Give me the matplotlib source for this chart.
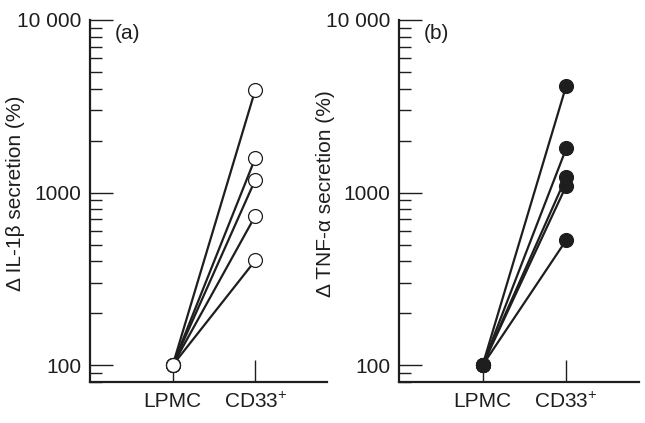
import matplotlib
matplotlib.use("Agg")
import matplotlib.pyplot as plt
from matplotlib.ticker import FixedLocator, LogLocator, NullFormatter

plt.rcParams["font.family"] = ["Liberation Sans", "DejaVu Sans"]
plt.rcParams["mathtext.fontset"] = "custom"
plt.rcParams["mathtext.rm"] = "Liberation Sans"
plt.rcParams["mathtext.it"] = "Liberation Sans"

# data (percent of LPMC secretion)
groups = ["LPMC", "CD33$^{+}$"]
il1b_lpmc = [100, 100, 100, 100, 100]
il1b_cd33 = [3950, 1590, 1190, 735, 405]
tnfa_lpmc = [100, 100, 100, 100, 100]
tnfa_cd33 = [4150, 1800, 1230, 1095, 530]

ytick_vals = [100, 1000, 10000]
ytick_labels = ["100", "1000", "10 000"]

INK = "#1e1e1e"
FS = 15

fig = plt.figure(figsize=(6.45, 4.23), dpi=100)
ax_a = fig.add_axes([0.1395, 0.097, 0.368, 0.856])
ax_b = fig.add_axes([0.6186, 0.097, 0.372, 0.856])


def draw_panel(ax, before, after, filled, ylabel, tag, label_x):
    for b, a in zip(before, after):
        ax.plot([1, 2], [b, a], color=INK, lw=1.6, zorder=2, solid_capstyle="round")
    face = INK if filled else "white"
    ax.plot([1] * len(before), before, "o", ms=10, mfc=face, mec=INK, mew=0.9, zorder=3, ls="none")
    ax.plot([2] * len(after), after, "o", ms=10, mfc=face, mec=INK, mew=0.9, zorder=3, ls="none")

    ax.set_yscale("log")
    ax.set_ylim(80, 10000)
    ax.set_xlim(0, 2.87)
    ax.yaxis.set_major_locator(FixedLocator(ytick_vals))
    ax.set_yticklabels(ytick_labels)
    ax.yaxis.set_minor_locator(LogLocator(base=10, subs=range(2, 10)))
    ax.yaxis.set_minor_formatter(NullFormatter())
    ax.set_xticks([1, 2])
    ax.set_xticklabels(groups)

    ax.tick_params(axis="y", which="major", direction="in", length=16.5, width=1.0,
                   labelsize=FS, pad=6, colors=INK)
    ax.tick_params(axis="y", which="minor", direction="in", length=8.5, width=1.0, colors=INK)
    ax.tick_params(axis="x", which="major", direction="in", length=16, width=1.0,
                   labelsize=FS, pad=7, colors=INK)

    for s in ("top", "right"):
        ax.spines[s].set_visible(False)
    for s in ("left", "bottom"):
        ax.spines[s].set_linewidth(1.6)
        ax.spines[s].set_color(INK)

    ax.set_ylabel(ylabel, fontsize=FS, color=INK)
    ax.yaxis.set_label_coords(label_x, 0.52)
    ax.text(0.105, 0.99, tag, transform=ax.transAxes, ha="left", va="top",
            fontsize=FS, color=INK)


draw_panel(ax_a, il1b_lpmc, il1b_cd33, False, "Δ IL-1β secretion (%)", "(a)", -0.274)
draw_panel(ax_b, tnfa_lpmc, tnfa_cd33, True, "Δ TNF-α secretion (%)", "(b)", -0.268)

fig.savefig("out.png", dpi=100)
